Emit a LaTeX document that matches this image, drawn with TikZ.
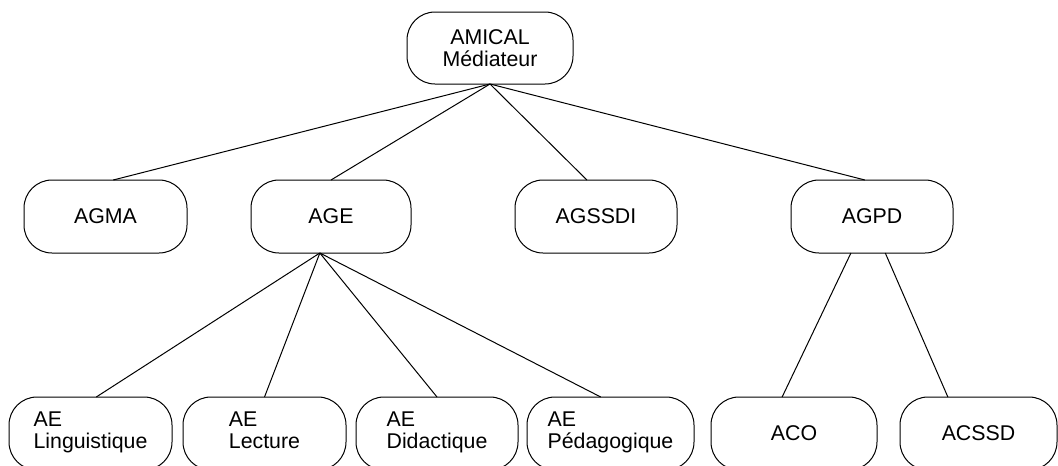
\documentclass[tikz,border=0pt]{standalone}
\usepackage{fontspec}
\setmainfont{Liberation Sans}
\begin{document}
\begin{tikzpicture}[x=0.75pt,y=-0.75pt,
  every node/.style={font=\fontsize{16}{17}\selectfont},
  agent/.style={draw=black, line width=0.75pt, rounded corners=21pt,
    inner sep=0pt, outer sep=0pt, minimum height=54.75pt},
  link/.style={draw=black, line width=0.75pt}]
\clip (0,0) rectangle (1058,465);
\fill[white] (0,0) rectangle (1058,465);

% root
\node[agent, minimum width=124.5pt, minimum height=54pt, align=center] (amical) at (490,48) {AMICAL\\[-1pt]Médiateur};

% second level
\node[agent, minimum width=122.25pt] (agma)   at (105.5,216.5) {AGMA};
\node[agent, minimum width=120pt]    (age)    at (331,216.5)   {AGE};
\node[agent, minimum width=121.5pt]  (agssdi) at (596,216.5)   {AGSSDI};
\node[agent, minimum width=121.5pt]  (agpd)   at (872,216.5)   {AGPD};

% third level
\node[agent, minimum width=122.25pt, align=left] (ling) at (90.5,433.5)  {AE\\Linguistique\strut};
\node[agent, minimum width=122.25pt, align=left] (lect) at (264.5,433.5) {AE\\Lecture\strut};
\node[agent, minimum width=121.5pt,  align=left] (did)  at (437,433.5)   {AE\\Didactique\strut};
\node[agent, minimum width=125.25pt, align=left] (ped)  at (610.5,433.5) {AE\\Pédagogique\strut};
\node[agent, minimum width=124.5pt]  (aco)   at (794,433.5)   {ACO};
\node[agent, minimum width=117.75pt] (acssd) at (978.5,433.5) {ACSSD};

% hierarchy links
\draw[link] (amical.south) -- (agma.78);
\draw[link] (amical.south) -- (age.north);
\draw[link] (amical.south) -- (agssdi.104);
\draw[link] (amical.south) -- (agpd.101);

\draw[link] (age.-107) -- (ling.81);
\draw[link] (age.-107) -- (lect.north);
\draw[link] (age.-107) -- (did.north);
\draw[link] (age.-107) -- (ped.105);

\draw[link] (agpd.-120) -- (aco.108);
\draw[link] (agpd.-70) -- (acssd.130);
\end{tikzpicture}
\end{document}
